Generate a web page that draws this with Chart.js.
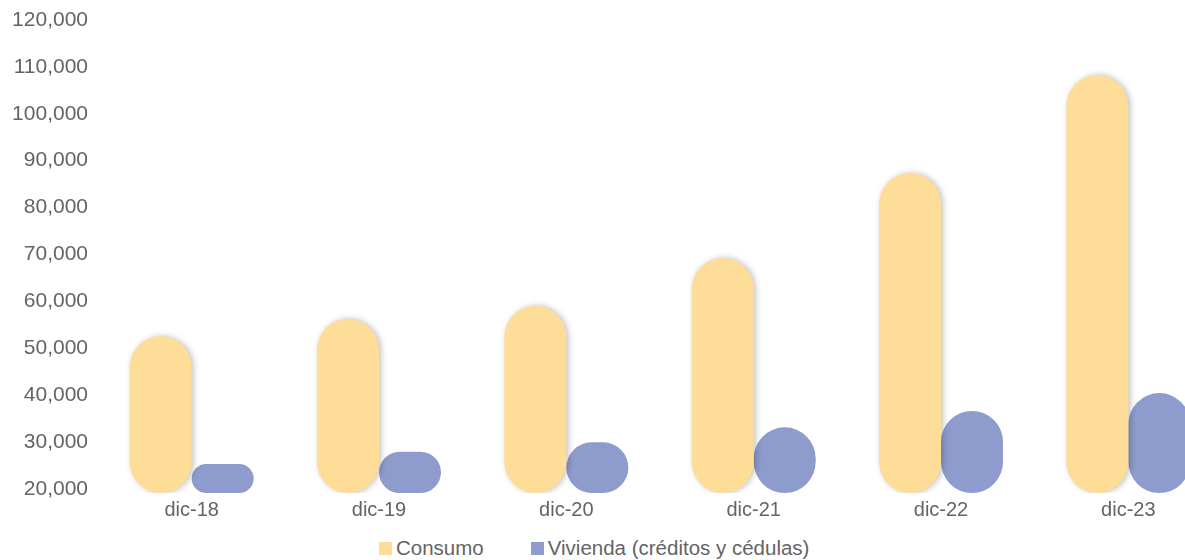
<!DOCTYPE html>
<html>
<head>
<meta charset="utf-8">
<script src="https://cdn.jsdelivr.net/npm/chart.js@4.4.1/dist/chart.umd.min.js"></script>
<style>
  html, body { margin: 0; padding: 0; background: #fff; overflow: hidden; }
  #wrap { position: absolute; left: 0; top: 0; width: 1222px; height: 530px; }
  #legend {
    position: absolute; left: 379px; top: 542px; height: 13px;
    display: flex; align-items: center;
    font-family: "Liberation Sans", Arial, sans-serif; font-size: 20.5px; color: #646464;
  }
  #legend .item { display: flex; align-items: center; margin-right: 47px; line-height: 1; }
  #legend .box { width: 13px; height: 13px; margin-right: 4px; }
</style>
</head>
<body>
<div id="wrap"><canvas id="creditChart"></canvas></div>
<div id="legend"></div>
<script>
const categories = ['dic-18', 'dic-19', 'dic-20', 'dic-21', 'dic-22', 'dic-23'];
const consumo = [53400, 57100, 59900, 70100, 88200, 109100];
const vivienda = [26200, 28800, 30800, 34000, 37500, 41300];
const yTicks = [20000, 30000, 40000, 50000, 60000, 70000, 80000, 90000, 100000, 110000, 120000];

const textColor = '#646464';
const fontFamily = '"Liberation Sans", Arial, sans-serif';

// soft grey shadow behind the Consumo pills
const barShadow = {
    id: 'barShadow',
    beforeDatasetDraw(chart, args) {
        if (args.index !== 0) return;
        const ctx = chart.ctx;
        ctx.save();
        ctx.shadowColor = 'rgba(0, 0, 0, 0.25)';
        ctx.shadowBlur = 6;
        ctx.shadowOffsetX = 2;
        ctx.shadowOffsetY = 0;
    },
    afterDatasetDraw(chart, args) {
        if (args.index !== 0) return;
        chart.ctx.restore();
    }
};

const chart = new Chart(document.getElementById('creditChart'), {
    type: 'bar',
    data: {
        labels: categories,
        datasets: [{
            label: 'Consumo',
            data: consumo,
            backgroundColor: '#fedd99',
            base: yTicks[0],
            borderRadius: 999,
            borderSkipped: false
        }, {
            label: 'Vivienda (créditos y cédulas)',
            data: vivienda,
            backgroundColor: '#8e9bcd',
            base: yTicks[0],
            borderRadius: 999,
            borderSkipped: false
        }]
    },
    options: {
        responsive: true,
        maintainAspectRatio: false,
        animation: false,
        layout: { padding: { top: 24, left: 0, right: 0, bottom: 0 } },
        datasets: {
            bar: { categoryPercentage: 0.662, barPercentage: 1 }
        },
        scales: {
            x: {
                grid: { display: false, drawTicks: false },
                border: { display: false },
                ticks: { color: textColor, font: { family: fontFamily, size: 20 }, padding: 5 },
                afterFit: (scale) => { scale.height = 37; }
            },
            y: {
                min: yTicks[0],
                max: yTicks[yTicks.length - 1],
                grid: { display: false, drawTicks: false },
                border: { display: false },
                afterBuildTicks: (scale) => { scale.ticks = yTicks.map(v => ({ value: v })); },
                afterFit: (scale) => { scale.width = 98; },
                ticks: {
                    color: textColor,
                    font: { family: fontFamily, size: 21 },
                    padding: 10,
                    labelOffset: -4,
                    callback: (value) => value.toLocaleString('en-US')
                }
            }
        },
        plugins: {
            legend: { display: false },
            tooltip: { enabled: false }
        }
    },
    plugins: [barShadow]
});

// legend built from the chart's own dataset styles
const legendEl = document.getElementById('legend');
chart.options.plugins.legend.labels.generateLabels(chart).forEach(item => {
    const el = document.createElement('div');
    el.className = 'item';
    const box = document.createElement('span');
    box.className = 'box';
    box.style.background = item.fillStyle;
    const txt = document.createElement('span');
    txt.textContent = item.text;
    el.append(box, txt);
    legendEl.append(el);
});
</script>
</body>
</html>
